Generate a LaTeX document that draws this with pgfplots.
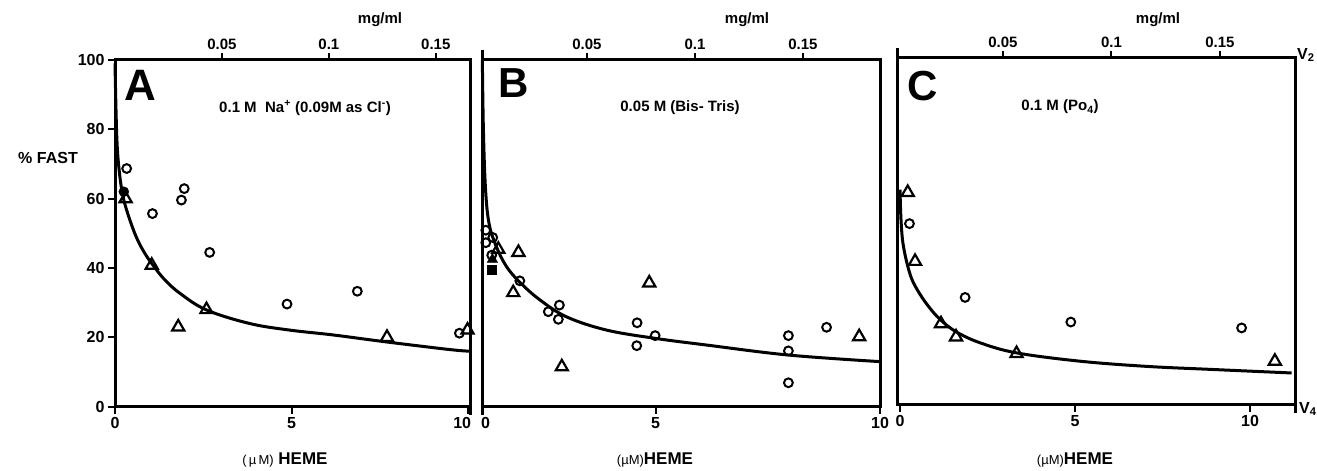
\documentclass[border=0pt]{standalone}
\usepackage{pgfplots}
\pgfplotsset{compat=1.18}
\usepackage{fontspec}
\setmainfont{Liberation Sans}
\begin{document}
\begin{tikzpicture}[x=1pt,y=1pt]
\path[use as bounding box] (0pt,0pt) rectangle (1317pt,471pt);
\pgfplotsset{
  panel/.style={
    scale only axis, anchor=south west, clip=false,
    ymin=0, ymax=100,
    axis line style={line width=3pt},
    every tick/.style={line width=2pt, black},
    tick align=outside, major tick length=7pt,
    xtick pos=left, ytick pos=left,
    tick label style={font=\bfseries\fontsize{16}{18}\selectfont},
    /pgf/number format/assume math mode=true,
  },
  topax/.style={
    scale only axis, anchor=south west,
    ymin=0, ymax=1,
    axis x line*=top, axis y line=none,
    axis line style={line width=3pt},
    every tick/.style={line width=2pt, black},
    tick align=outside, major tick length=7pt,
    xtick={0.05,0.1,0.15}, xticklabels={0.05,0.1,0.15},
    tick label style={font=\bfseries\fontsize{15}{17}\selectfont},
    /pgf/number format/assume math mode=true,
  },
  circ/.style={only marks, mark=o, mark size=4.4pt, mark options={line width=2pt, black}},
  circf/.style={only marks, mark=*, mark size=5pt, mark options={black}},
  tri/.style={only marks, mark=triangle, mark size=7pt, mark options={line width=2.2pt, black}},
  fit/.style={no marks, smooth, tension=0.6, line width=3pt, black},
}

% ---------------- Panel A ----------------
\begin{axis}[panel, at={(115pt,64.3pt)}, width=355pt, height=346.7pt,
  xmin=0, xmax=10.05, xtick={0,5,10}, xticklabels={0,5,{10\hspace*{12pt}}},
  ytick={0,20,40,60,80,100}, yticklabels={0,20,40,60,80,100}]
\draw[line width=3pt] (axis cs:10.05,0) -- (axis cs:10.05,-2.5);
\addplot[fit] coordinates {(0,99) (0.05,78) (0.12,68) (0.23,60.5) (0.4,54.5) (0.6,49) (0.8,45) (1.04,41.3) (1.4,36.7) (1.84,32.7) (2.59,27.9) (3.81,24) (4.94,22.1) (6.17,20.7) (7.67,18.7) (9.46,16.5) (10.05,16)};
\addplot[circ] coordinates {(0.33,68.7) (1.06,55.7) (1.96,62.9) (1.88,59.6) (2.68,44.5) (4.87,29.6) (6.86,33.3) (9.75,21.2)};
\addplot[circf] coordinates {(0.25,62)};
\addplot[tri] coordinates {(0.3,60) (1.04,40.8) (1.79,23) (2.59,28) (7.70,20) (9.98,22.1)};
\end{axis}
\begin{axis}[topax, at={(115pt,64.3pt)}, width=355pt, height=346.7pt, xmin=0, xmax=0.166]
\end{axis}

% ---------------- Panel B ----------------
\begin{axis}[panel, at={(482pt,64.3pt)}, width=398pt, height=346.7pt,
  xmin=0, xmax=11.47, xtick={0,5,11.47}, xticklabels={{\hspace*{7pt}0},5,10}, ytick=\empty]
\draw[line width=3pt] (axis cs:0,-2.5) -- (axis cs:0,103);
\addplot[fit] coordinates {(0.01,100) (0.04,80) (0.1,63) (0.2,53) (0.4,46.5) (0.7,40.5) (1.1,35.8) (1.67,30.8) (2.44,25.9) (3.59,22.1) (5,19.7) (6.46,17.8) (8.83,14.9) (11.47,13)};
\addplot[circ] coordinates {(0.11,50.9) (0.11,47.3) (0.31,48.8) (0.28,43.7) (1.09,36.3) (1.91,27.4) (2.23,29.3) (2.20,25.2) (4.47,24.2) (4.46,17.6) (4.99,20.5) (8.83,20.5) (8.83,16.1) (8.83,6.9) (9.93,22.9)};
\addplot[only marks, mark=square*, mark size=4.5pt, mark options={black}] coordinates {(0.28,39.5)};
\addplot[only marks, mark=triangle*, mark size=6pt, mark options={black}] coordinates {(0.3,42.5)};
\addplot[tri] coordinates {(0.47,45.4) (1.05,44.5) (0.90,32.9) (2.30,11.5) (4.82,35.7) (10.87,20.2)};
\end{axis}
\begin{axis}[topax, at={(482pt,64.3pt)}, width=398pt, height=346.7pt, xmin=0.0014, xmax=0.1857]
\end{axis}

% ---------------- Panel C ----------------
\begin{axis}[panel, at={(897pt,66.5pt)}, width=398pt, height=346.5pt,
  xmin=-0.086, xmax=11.286, xtick={0,5,10}, xticklabels={0,5,10}, ytick=\empty]
\draw[line width=3pt] (axis cs:-0.086,100) -- (axis cs:-0.086,103);
\draw[line width=3pt] (axis cs:11.286,0) -- (axis cs:11.286,-2.5);
\addplot[fit] coordinates {(0,62) (0.03,53) (0.1,45.5) (0.29,37.5) (0.5,33) (0.8,28.5) (1.14,24.6) (1.6,21) (2.29,17.8) (3.33,14.9) (5.14,12.5) (7.05,11) (8.95,10.1) (11.19,9.1)};
\addplot[circ] coordinates {(0.27,52.2) (1.86,30.9) (4.88,23.8) (9.76,22.1)};
\addplot[tri] coordinates {(0.22,61.2) (0.43,41.3) (1.17,23.3) (1.6,19.5) (3.33,14.7) (10.71,12.5)};
\end{axis}
\begin{axis}[topax, at={(897pt,66.5pt)}, width=398pt, height=346.5pt, xmin=0.00115, xmax=0.1846]
\end{axis}

% ---------------- Texts ----------------
\begin{scope}[every node/.style={font=\bfseries, inner sep=0pt}]
\node at (48pt,313pt) {\fontsize{16}{18}\selectfont \% FAST};
\node at (140pt,386pt) {\fontsize{44}{46}\selectfont A};
\node at (514pt,388pt) {\fontsize{42}{44}\selectfont B};
\node at (923pt,385pt) {\fontsize{42}{44}\selectfont C};
\node at (305pt,363pt) {\fontsize{15}{17}\selectfont 0.1 M\ \ Na\textsuperscript{+} (0.09M as Cl\textsuperscript{-})};
\node at (680pt,363pt) {\fontsize{15}{17}\selectfont 0.05 M (Bis- Tris)};
\node at (1060pt,364pt) {\fontsize{15}{17}\selectfont 0.1 M (Po\textsubscript{4})};
\node at (380pt,451pt) {\fontsize{15}{17}\selectfont mg/ml};
\node at (747pt,451pt) {\fontsize{15}{17}\selectfont mg/ml};
\node at (1158pt,451pt) {\fontsize{15}{17}\selectfont mg/ml};
\node at (285pt,11pt) {\fontsize{17}{19}\selectfont {\mdseries\fontsize{13}{15}\selectfont (\,µ\,M)} HEME};
\node at (655pt,11pt) {\fontsize{17}{19}\selectfont {\mdseries\fontsize{13}{15}\selectfont (µM)}HEME};
\node at (1075pt,11pt) {\fontsize{17}{19}\selectfont {\mdseries\fontsize{13}{15}\selectfont (µM)}HEME};
\node[anchor=west] at (1297pt,416pt) {\fontsize{16}{18}\selectfont V\textsubscript{2}};
\node[anchor=west] at (1299pt,62pt) {\fontsize{16}{18}\selectfont V\textsubscript{4}};
\end{scope}
\end{tikzpicture}
\end{document}
